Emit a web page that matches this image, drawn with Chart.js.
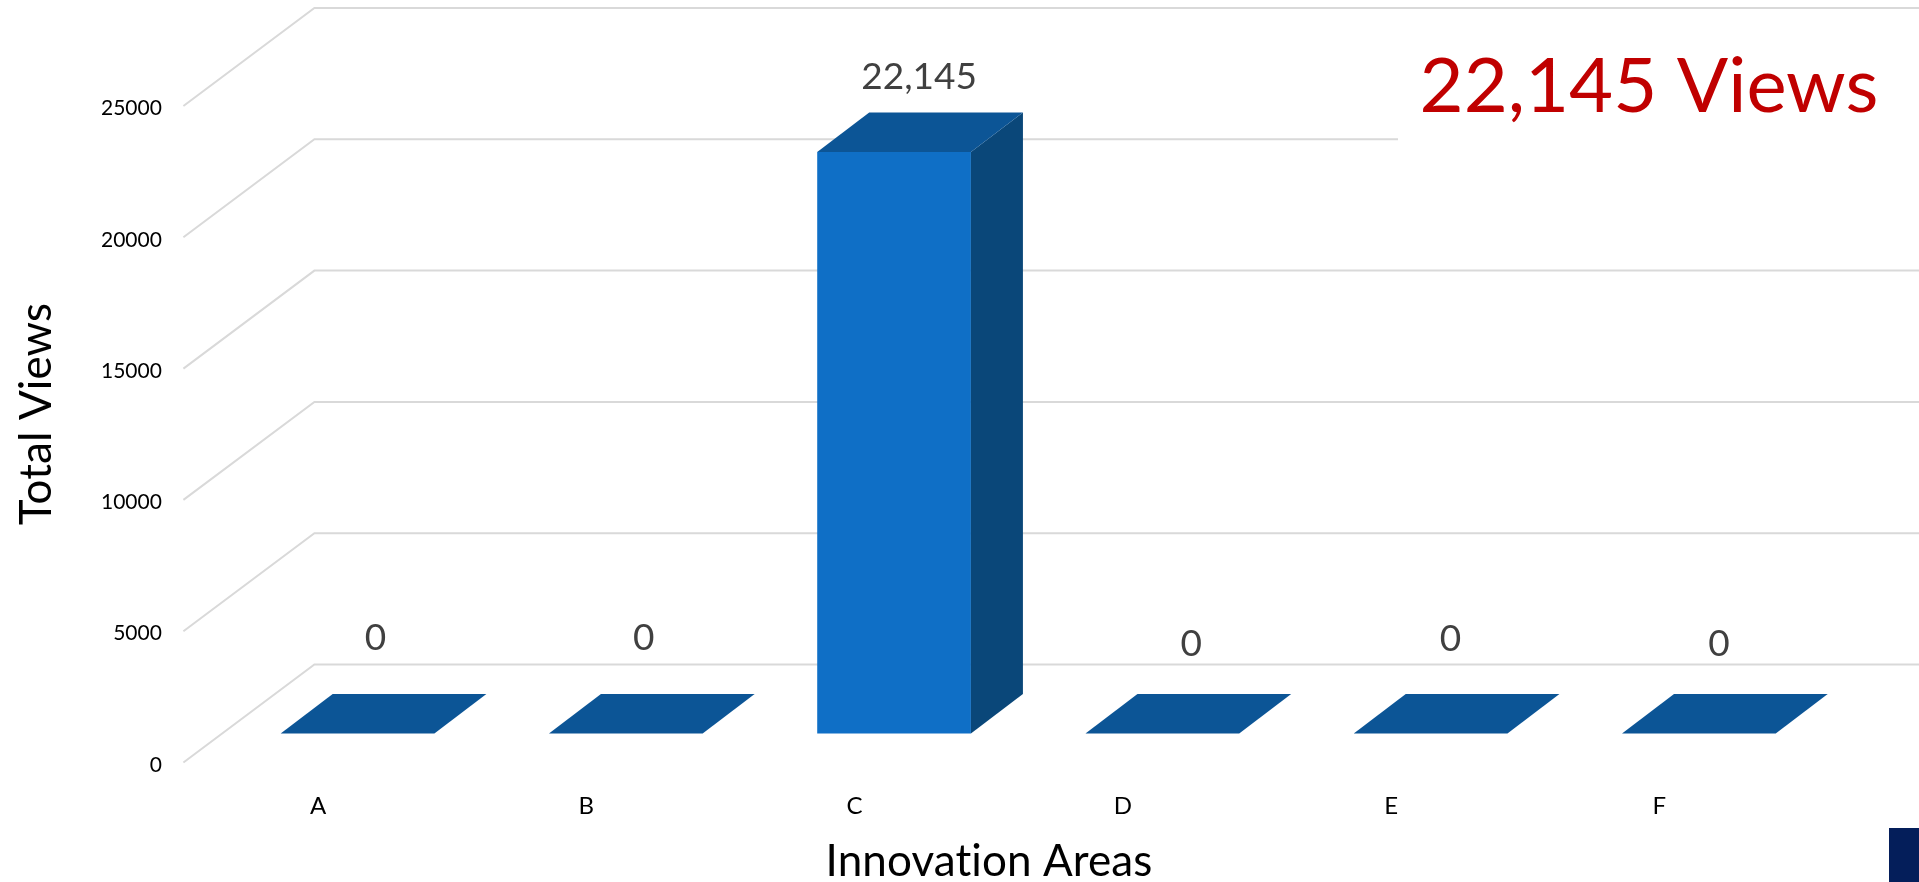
<!DOCTYPE html>
<html>
<head>
<meta charset="utf-8">
<style>
  html, body { margin: 0; background: #fff; overflow: hidden; }
  #wrap { position: relative; width: 1919px; height: 882px; }
  #corner { position: absolute; left: 1889px; top: 828px; width: 30px; height: 54px; background: #041e5a; }
</style>
<script src="https://cdn.jsdelivr.net/npm/chart.js@4/dist/chart.umd.js"></script>
</head>
<body>
<div id="wrap">
  <canvas id="chart" width="1919" height="882"></canvas>
  <div id="corner"></div>
</div>
<script>
const categories = ["A", "B", "C", "D", "E", "F"];
const totalViews = [0, 0, 22145, 0, 0, 0];
const yTicks = [0, 5000, 10000, 15000, 20000, 25000];
const calloutText = "22,145 Views";

const font = "Lato";
// fake 3d depth of the floor and of the bars, in pixels
const wallDepth = { x: 131, y: 98 };
const barDepth = { x: 52, y: 39.5 };
// hand placed labels in the original, offset from the bar's front top
const labelNudge = [[18, -95], [18, -95], [25, -75], [29, -89], [20, -94], [20, -89]];

const fake3d = {
  id: "fake3d",
  beforeDatasetsDraw(chart) {
    const ctx = chart.ctx;
    const y = chart.scales.y;
    const left = y.right;
    ctx.save();
    ctx.strokeStyle = "#d9d9d9";
    ctx.lineWidth = 2;
    yTicks.forEach(v => {
      const py = y.getPixelForValue(v);
      ctx.beginPath();
      ctx.moveTo(left - 40, py);
      ctx.lineTo(left - 40 + wallDepth.x, py - wallDepth.y);
      ctx.lineTo(chart.width, py - wallDepth.y);
      ctx.stroke();
    });
    // the callout's text box sits over the gridline
    ctx.fillStyle = "#fff";
    ctx.fillRect(1398, 120, 521, 40);
    ctx.restore();
  },
  afterDatasetsDraw(chart) {
    const ctx = chart.ctx;
    const bars = chart.getDatasetMeta(0).data;
    ctx.save();
    bars.forEach((bar, i) => {
      const l = bar.x - bar.width / 2;
      const r = bar.x + bar.width / 2;
      if (bar.base - bar.y > 0) {
        ctx.fillStyle = "#0a4779";
        ctx.beginPath();
        ctx.moveTo(r, bar.y);
        ctx.lineTo(r + barDepth.x, bar.y - barDepth.y);
        ctx.lineTo(r + barDepth.x, bar.base - barDepth.y);
        ctx.lineTo(r, bar.base);
        ctx.closePath();
        ctx.fill();
      }
      ctx.fillStyle = "#0c5596";
      ctx.beginPath();
      ctx.moveTo(l, bar.y);
      ctx.lineTo(l + barDepth.x, bar.y - barDepth.y);
      ctx.lineTo(r + barDepth.x, bar.y - barDepth.y);
      ctx.lineTo(r, bar.y);
      ctx.closePath();
      ctx.fill();

      ctx.fillStyle = "#404040";
      ctx.font = "37px " + font;
      ctx.textAlign = "center";
      ctx.textBaseline = "middle";
      ctx.fillText(totalViews[i].toLocaleString("en-US"), bar.x + labelNudge[i][0], bar.y + labelNudge[i][1]);
    });

    ctx.fillStyle = "#000";
    ctx.font = "44px " + font;
    ctx.letterSpacing = "0.1px"; // stops Lato's "ti" ligature
    ctx.textAlign = "center";
    ctx.textBaseline = "middle";
    ctx.fillText("Innovation Areas", 989, 862);
    ctx.save();
    ctx.translate(37, 414);
    ctx.rotate(-Math.PI / 2);
    ctx.fillText("Total Views", 0, 0);
    ctx.restore();
    ctx.letterSpacing = "0px";

    ctx.fillStyle = "#c00000";
    ctx.font = "76px " + font;
    ctx.textBaseline = "alphabetic";
    ctx.fillText(calloutText, 1649, 112);
    ctx.restore();
  }
};

new Chart(document.getElementById("chart"), {
  type: "bar",
  data: {
    labels: categories,
    datasets: [{
      label: "Total Views",
      data: totalViews,
      yAxisID: "yBars",
      backgroundColor: "#0f6fc6",
      barPercentage: 0.573,
      categoryPercentage: 1
    }]
  },
  options: {
    responsive: false,
    animation: false,
    layout: { padding: { top: 106, right: 86 } },
    plugins: { legend: { display: false }, tooltip: { enabled: false } },
    scales: {
      x: {
        grid: { display: false },
        border: { display: false },
        ticks: { color: "#000", font: { family: font, size: 24 }, padding: 21, labelOffset: -39.5, maxRotation: 0 },
        afterFit(scale) { scale.height = 119.5; }
      },
      y: {
        min: 0,
        max: 25000,
        grid: { display: false },
        border: { display: false },
        ticks: {
          color: "#000",
          font: { family: font, size: 21 },
          padding: 53.5,
          labelOffset: 2.5,
          stepSize: 5000,
          callback: value => String(value)
        },
        afterFit(scale) { scale.width = 223.4; }
      },
      // bars stand 29px behind the front edge of the floor, so they get their own scale
      yBars: { display: false, min: -1107, max: 23893 }
    }
  },
  plugins: [fake3d]
});
</script>
</body>
</html>
